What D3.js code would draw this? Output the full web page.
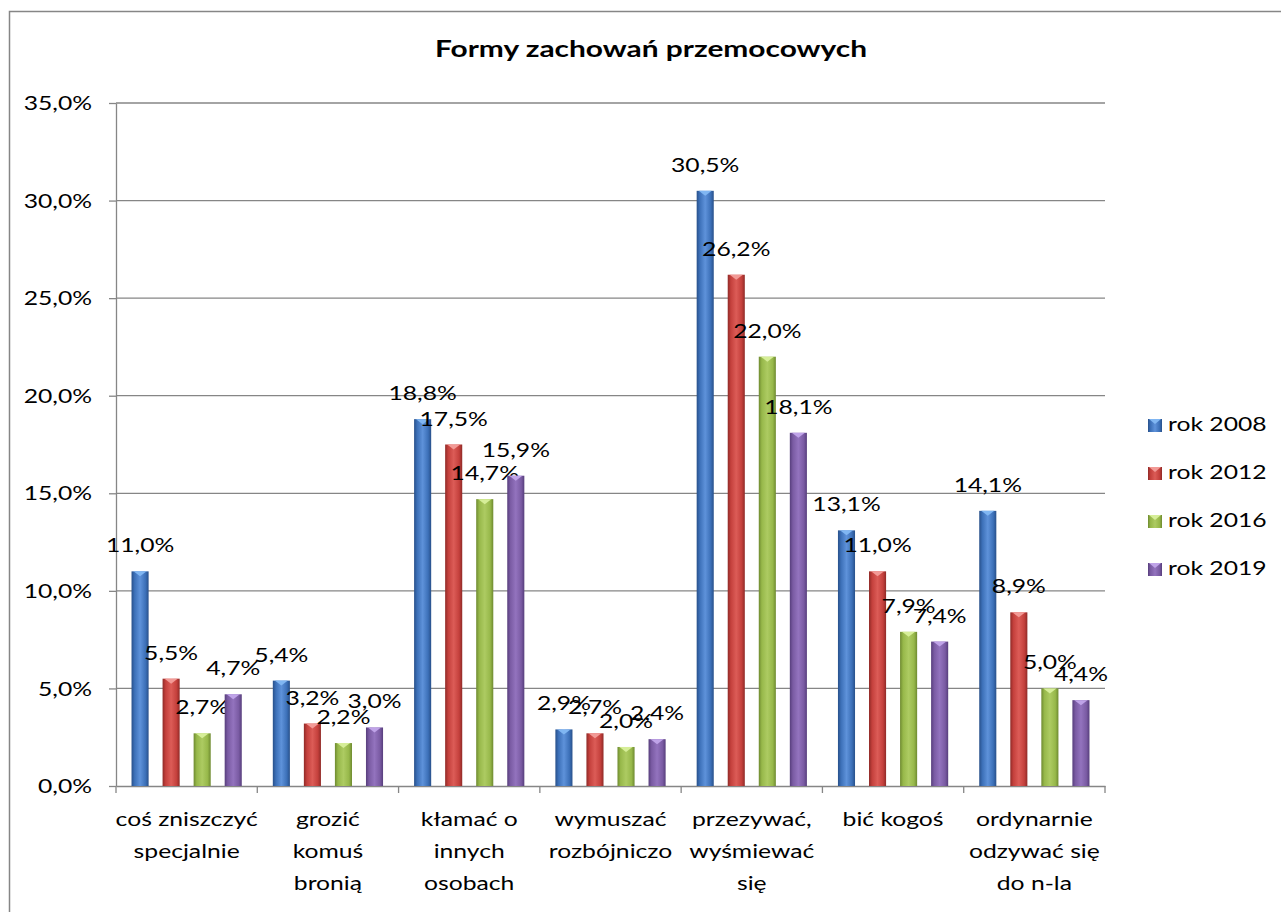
<!DOCTYPE html>
<html>
<head>
<meta charset="utf-8">
<script src="https://cdn.jsdelivr.net/npm/d3@7"></script>
<style>
  body { margin: 0; background: #fff; }
  text { font-family: Lato, "Open Sans", sans-serif; fill: #000; }
</style>
</head>
<body>
<div id="chart"></div>
<script>
// categories (x axis), wrapped as in the original
var categories = ["coś zniszczyć specjalnie", "grozić komuś bronią", "kłamać o innych osobach",
    "wymuszać rozbójniczo", "przezywać, wyśmiewać się", "bić kogoś", "ordynarnie odzywać się do n-la"];
var categoryLines = [["coś zniszczyć", "specjalnie"], ["grozić", "komuś", "bronią"], ["kłamać o", "innych", "osobach"],
    ["wymuszać", "rozbójniczo"], ["przezywać,", "wyśmiewać", "się"], ["bić kogoś"], ["ordynarnie", "odzywać się", "do n-la"]];

var seriesNames = ["rok 2008", "rok 2012", "rok 2016", "rok 2019"];
var values2008 = [11.0, 5.4, 18.8, 2.9, 30.5, 13.1, 14.1];
var values2012 = [5.5, 3.2, 17.5, 2.7, 26.2, 11.0, 8.9];
var values2016 = [2.7, 2.2, 14.7, 2.0, 22.0, 7.9, 5.0];
var values2019 = [4.7, 3.0, 15.9, 2.4, 18.1, 7.4, 4.4];
var yTicks = [0, 5, 10, 15, 20, 25, 30, 35];

var seriesValues = [values2008, values2012, values2016, values2019];
var seriesColors = [
    { base: "#3C70B8", dark: "#28508A", light: "#5E92DA", tip: "#80B6F2" },
    { base: "#C4403C", dark: "#8F2A27", light: "#DC5C57", tip: "#F29A96" },
    { base: "#97B84A", dark: "#6E8A30", light: "#ADCB62", tip: "#D6EE98" },
    { base: "#7A5BA3", dark: "#573E7C", light: "#9373BE", tip: "#BFA3E8" }
];

var W = 1281, H = 912;
var sx = 1.3; // horizontal stretch of the text in the original

var svg = d3.select("#chart").append("svg")
    .attr("width", W)
    .attr("height", H);

// chart frame
svg.append("rect")
    .attr("x", 9.5).attr("y", 11.5)
    .attr("width", W + 20).attr("height", H + 20)
    .attr("fill", "#fff")
    .attr("stroke", "#868686")
    .attr("stroke-width", 1.5);

// gradients for bevelled bars
var defs = svg.append("defs");
seriesColors.forEach(function(c, i) {
    var g = defs.append("linearGradient")
        .attr("id", "grad" + i)
        .attr("x1", "0").attr("x2", "1").attr("y1", "0").attr("y2", "0");
    g.append("stop").attr("offset", "0%").attr("stop-color", c.dark);
    g.append("stop").attr("offset", "18%").attr("stop-color", c.base);
    g.append("stop").attr("offset", "50%").attr("stop-color", c.light);
    g.append("stop").attr("offset", "82%").attr("stop-color", c.base);
    g.append("stop").attr("offset", "100%").attr("stop-color", c.dark);
});

function stretchedText(sel, x, y, str) {
    return sel.append("text")
        .attr("transform", "translate(" + x + "," + y + ") scale(" + sx + ",1)")
        .text(str);
}

// title
stretchedText(svg, 651, 57, "Formy zachowań przemocowych")
    .attr("text-anchor", "middle")
    .attr("font-weight", "bold")
    .attr("font-size", 23);

var g = svg.append("g")
    .attr("transform", "translate(116,103)");

// scales
var x0 = d3.scaleBand()
    .domain(categories)
    .range([0, 989]);

var x1 = d3.scaleBand()
    .domain(seriesNames)
    .range([0, x0.bandwidth()])
    .paddingInner(0.45)
    .paddingOuter(0.5);

var y = d3.scaleLinear()
    .domain([0, 35])
    .range([683, 0]);

// gridlines
g.selectAll(".grid")
    .data(yTicks.slice(1))
    .enter().append("line")
    .attr("class", "grid")
    .attr("x1", 0).attr("x2", x0.range()[1])
    .attr("y1", function(d) { return y(d); })
    .attr("y2", function(d) { return y(d); })
    .attr("stroke", "#868686")
    .attr("stroke-width", 1.3);

// y axis
var yAxis = d3.axisLeft(y)
    .tickValues(yTicks)
    .tickSize(7)
    .tickSizeOuter(0)
    .tickFormat(function(d) { return d.toFixed(1).replace(".", ",") + "%"; });

var yg = g.append("g").attr("class", "y-axis").call(yAxis);
yg.select(".domain").attr("stroke", "#868686").attr("stroke-width", 1.3);
yg.selectAll(".tick line").attr("stroke", "#868686").attr("stroke-width", 1.3);
yg.selectAll(".tick text")
    .attr("x", null).attr("dy", "0.35em")
    .attr("transform", "translate(-24,0) scale(" + sx + ",1)")
    .attr("font-size", 19)
    .attr("font-family", "Lato, sans-serif")
    .attr("fill", "#000");

// x axis
var xAxis = d3.axisBottom(x0)
    .tickSize(0)
    .tickFormat("");
var xg = g.append("g").attr("class", "x-axis")
    .attr("transform", "translate(0," + y(0) + ")")
    .call(xAxis);
xg.select(".domain").attr("stroke", "#868686").attr("stroke-width", 1.3);

// category separators
var bounds = categories.map(function(c) { return x0(c); }).concat([x0.range()[1]]);
xg.selectAll(".sep")
    .data(bounds)
    .enter().append("line")
    .attr("class", "sep")
    .attr("x1", function(d) { return d; }).attr("x2", function(d) { return d; })
    .attr("y1", 0).attr("y2", 7)
    .attr("stroke", "#868686")
    .attr("stroke-width", 1.3);

// category labels
categories.forEach(function(c, i) {
    categoryLines[i].forEach(function(line, j) {
        stretchedText(xg, x0(c) + x0.bandwidth() / 2, 40 + j * 32, line)
            .attr("text-anchor", "middle")
            .attr("font-size", 19);
    });
});

// bars
seriesNames.forEach(function(s, si) {
    var bw = x1.bandwidth();
    var grp = g.append("g").attr("class", "series series-" + si);

    grp.selectAll("rect")
        .data(seriesValues[si])
        .enter().append("rect")
        .attr("x", function(d, i) { return x0(categories[i]) + x1(s); })
        .attr("y", function(d) { return y(d); })
        .attr("width", bw)
        .attr("height", function(d) { return y(0) - y(d); })
        .attr("fill", "url(#grad" + si + ")");

    // small bevel tip at the top
    grp.selectAll("path")
        .data(seriesValues[si])
        .enter().append("path")
        .attr("d", function(d, i) {
            var xl = x0(categories[i]) + x1(s), yt = y(d);
            return "M" + (xl + 2) + "," + yt + "L" + (xl + bw - 2) + "," + yt +
                "L" + (xl + bw / 2) + "," + (yt + 5) + "Z";
        })
        .attr("fill", seriesColors[si].tip);

    // data labels
    seriesValues[si].forEach(function(d, i) {
        stretchedText(grp, x0(categories[i]) + x1(s) + bw / 2, y(d) - 19, d.toFixed(1).replace(".", ",") + "%")
            .attr("text-anchor", "middle")
            .attr("font-size", 19);
    });
});

// legend
var legend = svg.append("g").attr("class", "legend")
    .attr("transform", "translate(1148,419)");

seriesNames.forEach(function(s, i) {
    var row = legend.append("g").attr("transform", "translate(0," + (i * 48) + ")");
    row.append("rect")
        .attr("width", 14).attr("height", 13)
        .attr("fill", "url(#grad" + i + ")");
    row.append("path")
        .attr("d", "M1,0L13,0L7,5Z")
        .attr("fill", seriesColors[i].tip);
    stretchedText(row, 20, 12, s)
        .attr("font-size", 19);
});
</script>
</body>
</html>
